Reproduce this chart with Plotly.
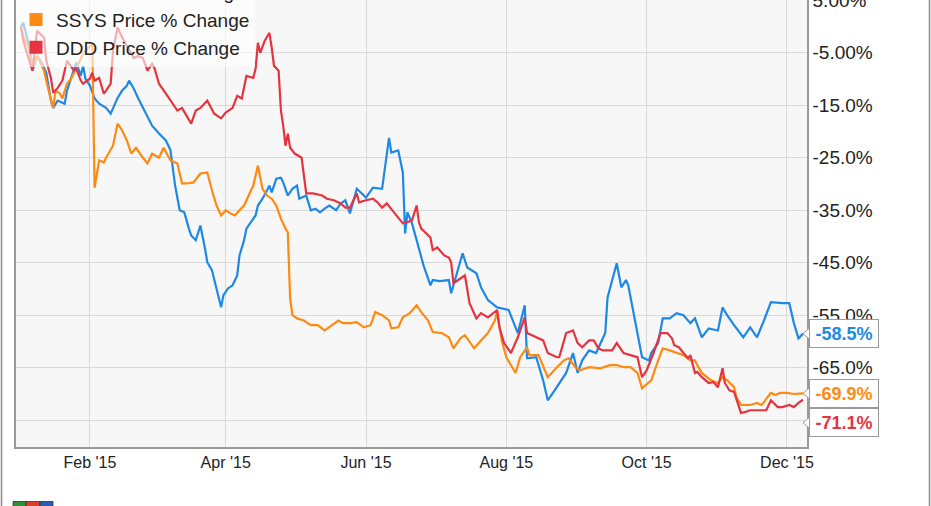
import plotly.graph_objects as go

# ---------------- data ----------------
vjet_dates = ["2015-01-02","2015-01-03","2015-01-05","2015-01-07","2015-01-09","2015-01-11","2015-01-13","2015-01-15","2015-01-16","2015-01-18",
              "2015-01-20","2015-01-21","2015-01-22","2015-01-24","2015-01-26","2015-01-28","2015-01-29","2015-01-30","2015-02-01","2015-02-03",
              "2015-02-05","2015-02-08","2015-02-10","2015-02-11","2015-02-13","2015-02-15","2015-02-17","2015-02-18","2015-02-20","2015-02-22",
              "2015-02-24","2015-02-26","2015-02-28","2015-03-03","2015-03-06","2015-03-08","2015-03-09","2015-03-10","2015-03-12","2015-03-14",
              "2015-03-16","2015-03-17","2015-03-19","2015-03-21","2015-03-23","2015-03-24","2015-03-26","2015-03-28","2015-03-30","2015-03-31",
              "2015-04-02","2015-04-04","2015-04-06","2015-04-07","2015-04-09","2015-04-10","2015-04-12","2015-04-14","2015-04-15","2015-04-17",
              "2015-04-19","2015-04-20","2015-04-21","2015-04-23","2015-04-25","2015-04-26","2015-04-28","2015-04-30","2015-05-02","2015-05-03",
              "2015-05-06","2015-05-08","2015-05-10","2015-05-12","2015-05-14","2015-05-16","2015-05-19","2015-05-21","2015-05-23","2015-05-25",
              "2015-05-28","2015-06-01","2015-06-04","2015-06-08","2015-06-11","2015-06-12","2015-06-15","2015-06-17","2015-06-18","2015-06-19",
              "2015-06-21","2015-06-24","2015-06-26","2015-06-29","2015-06-30","2015-07-03","2015-07-07","2015-07-08","2015-07-11","2015-07-13",
              "2015-07-15","2015-07-19","2015-07-21","2015-07-24","2015-07-28","2015-08-02","2015-08-06","2015-08-09","2015-08-10","2015-08-14",
              "2015-08-17","2015-08-19","2015-08-22","2015-08-24","2015-08-27","2015-08-30","2015-09-01","2015-09-03","2015-09-06","2015-09-09",
              "2015-09-13","2015-09-14","2015-09-16","2015-09-18","2015-09-20","2015-09-22","2015-09-23","2015-09-25","2015-09-27","2015-09-29",
              "2015-10-02","2015-10-03","2015-10-06","2015-10-08","2015-10-11","2015-10-14","2015-10-17","2015-10-20","2015-10-22","2015-10-25",
              "2015-10-28","2015-11-01","2015-11-03","2015-11-05","2015-11-08","2015-11-12","2015-11-15","2015-11-18","2015-11-21","2015-11-24",
              "2015-11-29","2015-12-02","2015-12-04","2015-12-06","2015-12-08"]
vjet_pct = [0.0, 0.7, -2.7, -8.4, -5.6, -6.9, -8.8, -14.1, -15.5, -14.1,
            -14.5, -14.7, -12.2, -9.4, -6.9, -9.4, -7.5, -9.9, -11.3, -13.7,
            -14.7, -15.5, -16.6, -15.6, -13.6, -12.2, -11.3, -10.3, -11.8, -13.7,
            -15.5, -17.0, -18.9, -20.4, -21.7, -23.6, -26.5, -30.3, -35.0, -35.4,
            -38.5, -39.8, -40.7, -37.9, -42.3, -44.9, -46.4, -50.2, -53.5, -51.2,
            -49.9, -49.3, -47.4, -43.6, -40.7, -38.5, -37.3, -36.0, -34.1, -32.8,
            -31.2, -30.3, -31.6, -29.0, -28.8, -29.7, -32.2, -30.9, -30.3, -32.8,
            -32.2, -35.0, -34.7, -35.4, -34.7, -34.1, -35.0, -33.7, -33.1, -35.6,
            -30.9, -32.6, -30.7, -30.9, -21.2, -24.0, -23.6, -27.8, -39.4, -35.4,
            -37.5, -42.6, -45.5, -49.3, -48.3, -48.5, -48.3, -50.8, -46.4, -43.2,
            -45.9, -47.0, -49.7, -52.1, -53.5, -54.0, -58.4, -53.1, -63.2, -63.0,
            -67.4, -71.2, -69.3, -67.9, -66.0, -62.2, -66.0, -63.6, -61.7, -62.2,
            -58.4, -51.6, -48.3, -45.1, -49.7, -48.3, -49.3, -54.0, -58.8, -63.0,
            -63.6, -62.2, -60.3, -55.6, -55.6, -54.6, -55.0, -56.5, -55.6, -59.2,
            -57.5, -57.9, -53.5, -55.0, -56.9, -59.2, -57.3, -59.2, -56.0, -52.5,
            -52.7, -52.7, -56.5, -59.4, -58.5]

ssys_dates = ["2015-01-02","2015-01-03","2015-01-06","2015-01-07","2015-01-09","2015-01-12","2015-01-14","2015-01-16","2015-01-17","2015-01-19",
              "2015-01-20","2015-01-22","2015-01-24","2015-01-27","2015-01-29","2015-01-31","2015-02-02","2015-02-03","2015-02-05","2015-02-07",
              "2015-02-08","2015-02-11","2015-02-13","2015-02-15","2015-02-17","2015-02-19","2015-02-21","2015-02-24","2015-02-26","2015-02-28",
              "2015-03-03","2015-03-05","2015-03-08","2015-03-11","2015-03-13","2015-03-15","2015-03-18","2015-03-21","2015-03-24","2015-03-26",
              "2015-03-28","2015-03-30","2015-04-01","2015-04-03","2015-04-05","2015-04-07","2015-04-09","2015-04-12","2015-04-13","2015-04-15",
              "2015-04-17","2015-04-19","2015-04-21","2015-04-23","2015-04-25","2015-04-27","2015-04-28","2015-04-29","2015-04-30","2015-05-02",
              "2015-05-05","2015-05-08","2015-05-11","2015-05-14","2015-05-17","2015-05-20","2015-05-22","2015-05-25","2015-05-28","2015-05-31",
              "2015-06-03","2015-06-05","2015-06-08","2015-06-11","2015-06-12","2015-06-15","2015-06-17","2015-06-20","2015-06-23","2015-06-25",
              "2015-06-28","2015-06-30","2015-07-04","2015-07-07","2015-07-09","2015-07-12","2015-07-14","2015-07-15","2015-07-18","2015-07-21",
              "2015-07-24","2015-07-27","2015-07-28","2015-07-30","2015-08-01","2015-08-05","2015-08-07","2015-08-10","2015-08-11","2015-08-15",
              "2015-08-19","2015-08-23","2015-08-26","2015-08-28","2015-08-31","2015-09-02","2015-09-06","2015-09-11","2015-09-15","2015-09-18",
              "2015-09-21","2015-09-24","2015-09-27","2015-09-29","2015-10-03","2015-10-06","2015-10-08","2015-10-11","2015-10-14","2015-10-17",
              "2015-10-20","2015-10-22","2015-10-23","2015-10-25","2015-10-29","2015-11-01","2015-11-03","2015-11-05","2015-11-08","2015-11-09",
              "2015-11-11","2015-11-15","2015-11-18","2015-11-20","2015-11-24","2015-11-26","2015-11-28","2015-12-01","2015-12-04","2015-12-08"]
ssys_pct = [0.0, -1.8, -4.6, -7.9, -5.6, -8.4, -12.2, -15.5, -12.2, -12.8,
            -13.7, -10.9, -9.8, -6.9, -5.2, -4.2, -3.3, -30.7, -25.5, -25.9,
            -25.0, -22.7, -18.5, -19.8, -21.7, -24.2, -23.1, -25.0, -26.1, -24.2,
            -25.0, -23.1, -25.5, -26.1, -29.9, -29.9, -29.7, -28.0, -27.8, -31.2,
            -34.1, -36.0, -35.0, -35.6, -36.0, -35.0, -34.1, -31.2, -30.3, -26.5,
            -30.9, -32.2, -32.8, -34.1, -36.6, -38.5, -39.2, -51.8, -55.0, -55.6,
            -56.0, -56.9, -56.9, -57.9, -56.9, -56.0, -56.5, -56.5, -56.3, -57.3,
            -56.9, -54.4, -55.0, -56.0, -57.5, -57.3, -55.4, -54.6, -53.1, -54.4,
            -56.0, -58.2, -58.4, -59.2, -61.3, -59.4, -58.8, -59.4, -61.3, -59.8,
            -58.4, -56.0, -54.4, -59.8, -63.0, -66.0, -63.0, -61.1, -62.6, -62.6,
            -66.8, -64.9, -63.6, -63.2, -64.9, -65.5, -64.9, -65.1, -64.5, -64.5,
            -64.9, -64.9, -66.0, -68.9, -67.4, -63.6, -61.3, -61.7, -62.2, -62.6,
            -63.6, -63.6, -64.5, -66.0, -67.4, -67.9, -66.8, -67.4, -68.7, -70.6,
            -72.1, -72.1, -71.7, -72.1, -69.8, -70.2, -69.8, -69.8, -70.0, -69.9]

ddd_dates = ["2015-01-02","2015-01-03","2015-01-06","2015-01-07","2015-01-09","2015-01-12","2015-01-13","2015-01-15","2015-01-16","2015-01-18",
             "2015-01-20","2015-01-22","2015-01-23","2015-01-25","2015-01-26","2015-01-28","2015-01-29","2015-02-01","2015-02-02","2015-02-03",
             "2015-02-05","2015-02-07","2015-02-08","2015-02-10","2015-02-11","2015-02-13","2015-02-15","2015-02-18","2015-02-20","2015-02-22",
             "2015-02-24","2015-02-26","2015-02-28","2015-03-01","2015-03-03","2015-03-06","2015-03-09","2015-03-11","2015-03-13","2015-03-15",
             "2015-03-17","2015-03-19","2015-03-21","2015-03-24","2015-03-27","2015-03-30","2015-04-01","2015-04-04","2015-04-06","2015-04-08",
             "2015-04-10","2015-04-13","2015-04-14","2015-04-15","2015-04-16","2015-04-18","2015-04-20","2015-04-21","2015-04-22","2015-04-24",
             "2015-04-25","2015-04-26","2015-04-27","2015-04-28","2015-04-29","2015-05-01","2015-05-04","2015-05-06","2015-05-09","2015-05-13",
             "2015-05-15","2015-05-18","2015-05-21","2015-05-23","2015-05-25","2015-05-28","2015-05-29","2015-06-01","2015-06-04","2015-06-06",
             "2015-06-08","2015-06-10","2015-06-13","2015-06-16","2015-06-17","2015-06-19","2015-06-21","2015-06-23","2015-06-24","2015-06-25",
             "2015-06-29","2015-06-30","2015-07-02","2015-07-05","2015-07-07","2015-07-08","2015-07-09","2015-07-12","2015-07-14","2015-07-16",
             "2015-07-19","2015-07-21","2015-07-24","2015-07-28","2015-07-29","2015-07-31","2015-08-03","2015-08-06","2015-08-09","2015-08-10",
             "2015-08-14","2015-08-17","2015-08-19","2015-08-23","2015-08-24","2015-08-27","2015-08-30","2015-09-01","2015-09-03","2015-09-06",
             "2015-09-08","2015-09-10","2015-09-12","2015-09-16","2015-09-18","2015-09-21","2015-09-24","2015-09-27","2015-09-29","2015-10-01",
             "2015-10-04","2015-10-07","2015-10-10","2015-10-12","2015-10-13","2015-10-15","2015-10-17","2015-10-19","2015-10-20","2015-10-22",
             "2015-10-23","2015-10-25","2015-10-28","2015-10-30","2015-11-01","2015-11-03","2015-11-04","2015-11-06","2015-11-08","2015-11-11",
             "2015-11-13","2015-11-15","2015-11-19","2015-11-22","2015-11-24","2015-11-27","2015-11-29","2015-12-02","2015-12-04","2015-12-06",
             "2015-12-08"]
ddd_pct = [0.0, -2.7, -7.1, -8.4, -0.8, -2.1, -6.5, -9.8, -12.6, -11.7,
           -10.3, -6.5, -7.1, -8.4, -8.0, -10.3, -10.9, -9.9, -8.8, -10.3,
           -9.8, -12.8, -12.2, -10.9, -4.6, -0.2, -2.1, -4.6, -6.0, -5.6,
           -6.0, -8.4, -7.1, -7.9, -10.9, -12.8, -14.7, -16.0, -15.5, -17.0,
           -18.5, -16.0, -15.5, -14.1, -16.6, -17.5, -16.4, -15.5, -13.2, -13.7,
           -9.4, -9.8, -8.0, -3.1, -5.0, -2.7, -1.2, -4.0, -7.5, -8.4,
           -16.0, -18.9, -22.7, -20.4, -23.1, -24.2, -25.0, -31.8, -31.8, -32.2,
           -32.8, -33.1, -33.7, -34.5, -34.5, -31.8, -33.5, -33.1, -32.8, -33.5,
           -34.5, -33.7, -35.4, -36.9, -37.5, -37.3, -36.9, -34.1, -37.3, -38.5,
           -40.2, -42.6, -42.1, -43.6, -44.0, -44.9, -48.9, -48.0, -47.4, -52.7,
           -55.6, -54.6, -55.4, -54.0, -57.3, -60.3, -62.2, -59.2, -55.4, -58.4,
           -59.2, -59.8, -62.2, -63.0, -63.0, -58.4, -57.9, -60.3, -61.1, -59.8,
           -59.8, -61.3, -61.7, -61.7, -60.3, -62.2, -62.6, -63.0, -66.8, -65.5,
           -62.2, -58.4, -58.4, -59.4, -60.7, -61.1, -62.2, -63.2, -62.6, -66.0,
           -65.8, -66.8, -67.9, -67.7, -68.7, -65.1, -67.9, -69.3, -69.6, -73.6,
           -73.4, -73.1, -73.1, -73.1, -71.2, -72.5, -72.5, -72.1, -72.5, -71.7,
           -71.1]

series_names = ["VJET Price % Change", "SSYS Price % Change", "DDD Price % Change"]
series_colors = ["#1e88e5", "#ff8a12", "#e5343f"]

x_tickvals = ["2015-02-01", "2015-04-01", "2015-06-01", "2015-08-01", "2015-10-01", "2015-12-01"]
x_ticktext = ["Feb '15", "Apr '15", "Jun '15", "Aug '15", "Oct '15", "Dec '15"]
y_tickvals = [5, -5, -15, -25, -35, -45, -55, -65, -75]
y_ticktext = ["5.00%", "-5.00%", "-15.0%", "-25.0%", "-35.0%", "-45.0%", "-55.0%", "-65.0%", ""]

# ---------------- layout constants ----------------
W, H = 931, 506
ML, MR, MT, MB = 16, 124, 0, 59
PW = W - ML - MR
PH = H - MT - MB


def px_x(p):
    return (p - ML) / PW


def px_y(p):
    return (H - MB - p) / PH


fig = go.Figure()

all_dates = [vjet_dates, ssys_dates, ddd_dates]
all_vals = [vjet_pct, ssys_pct, ddd_pct]

for name, col, xs, ys in zip(series_names, series_colors, all_dates, all_vals):
    fig.add_trace(go.Scatter(x=xs, y=ys, mode="lines", name=name,
                             line=dict(color=col, width=2.2), showlegend=False,
                             hoverinfo="skip"))
# legend entries with square swatches
for name, col in zip(series_names, series_colors):
    fig.add_trace(go.Scatter(x=[None], y=[None], mode="markers", name=name,
                             marker=dict(symbol="square", size=13, color=col),
                             showlegend=True))

# end-value labels
label_shift = [0, 0, -23]
shapes = []
annotations = []
for col, ys, sh in zip(series_colors, all_vals, label_shift):
    last = ys[-1]
    annotations.append(dict(
        x=1, xref="paper", y=last, yref="y", xanchor="left", yanchor="middle",
        xshift=2, yshift=sh, text=f"<b>{last:.1f}%</b>", showarrow=False,
        font=dict(family="Liberation Sans, Arial, sans-serif", size=18, color=col),
        bgcolor="white", bordercolor="#9a9a9a", borderwidth=1, borderpad=2,
        width=64, height=23, align="center"))
    shapes.append(dict(
        type="path", xref="paper", yref="y", xsizemode="pixel", ysizemode="pixel",
        xanchor=1, yanchor=last,
        path=f"M 3,{sh + 6} L -4,{sh} L 3,{sh - 6} Z",
        fillcolor="white", line=dict(color="#9a9a9a", width=1), layer="above"))

# outer frame lines
for px in (1.5, 929.5):
    shapes.append(dict(type="line", xref="paper", yref="paper",
                       x0=px_x(px), x1=px_x(px), y0=px_y(H + 5), y1=px_y(-5),
                       line=dict(color="#8a8a8a", width=1.5)))
# small logo at the bottom left
logo_parts = [(13, 26, "#2f8f3a"), (26, 40, "#d8402c"), (40, 53, "#2a5db0")]
for x0, x1, c in logo_parts:
    shapes.append(dict(type="rect", xref="paper", yref="paper",
                       x0=px_x(x0), x1=px_x(x1), y0=px_y(507), y1=px_y(501.5),
                       fillcolor=c, line=dict(color="#333", width=0.8)))

fig.update_layout(
    width=W, height=H,
    margin=dict(l=ML, r=MR, t=MT, b=MB, autoexpand=False),
    paper_bgcolor="white", plot_bgcolor="#f7f7f7",
    font=dict(family="Liberation Sans, Arial, sans-serif", color="#222"),
    hovermode=False,
    showlegend=True,
    legend=dict(x=0.0, xanchor="left", y=px_y(67), yanchor="bottom",
                bgcolor="rgba(255,255,255,0.6)", borderwidth=0,
                font=dict(family="Liberation Sans, Arial, sans-serif", size=19, color="#222"),
                traceorder="normal"),
    xaxis=dict(type="date", range=["2014-12-30 20:00", "2015-12-09 17:00"],
               tickvals=x_tickvals, ticktext=x_ticktext, showgrid=True,
               gridcolor="#d9d9d9", gridwidth=1, zeroline=False,
               showline=True, linecolor="#9a9a9a", linewidth=1.5, ticks="",
               tickfont=dict(size=16, color="#222")),
    yaxis=dict(range=[-80.1, 5.05], side="right", tickvals=y_tickvals,
               ticktext=y_ticktext, showgrid=True, gridcolor="#d9d9d9",
               gridwidth=1, zeroline=False, showline=True, mirror=True,
               linecolor="#9a9a9a", linewidth=1.5, ticks="",
               ticklabeloverflow="allow",
               tickfont=dict(size=19, color="#222")),
    shapes=shapes,
    annotations=annotations,
)

fig.write_html("out.html", config={"displayModeBar": False},
               post_script="document.body.style.margin='0';document.body.style.overflow='hidden';")
